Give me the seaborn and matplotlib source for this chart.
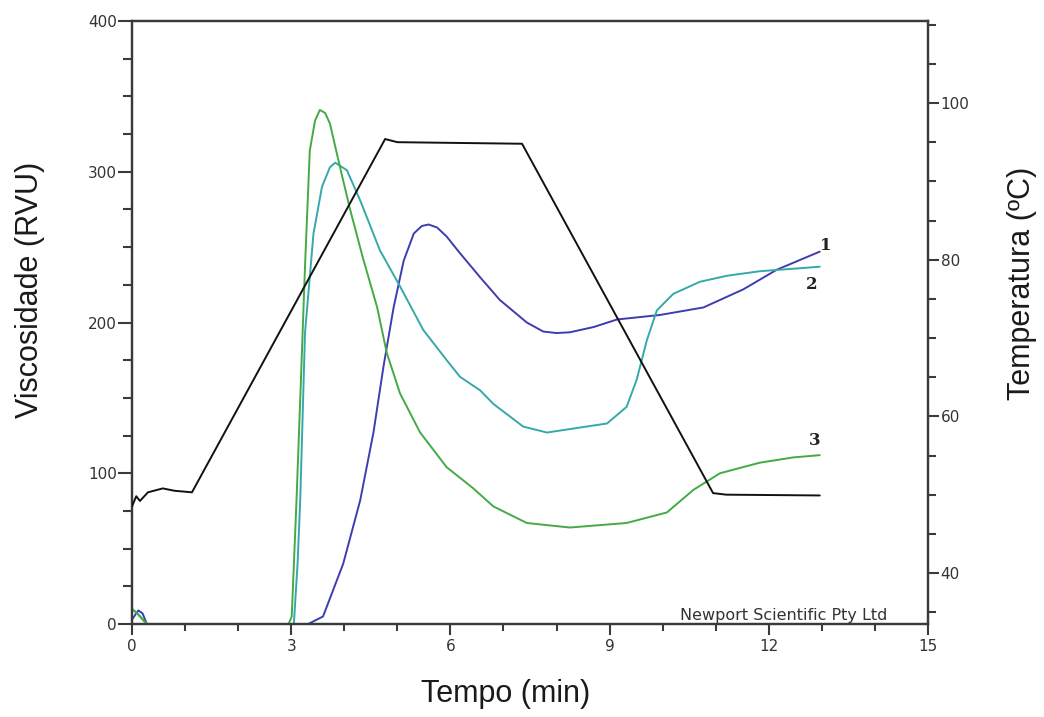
import numpy as np
import pandas as pd
import seaborn as sns
import matplotlib
matplotlib.use("Agg")
import matplotlib.pyplot as plt
from matplotlib.ticker import MultipleLocator

# ---------------- data ----------------
# curve 1 (blue)
time_1 = [0, 0.12, 0.2, 0.28, 3.32, 3.6, 3.98, 4.3, 4.55, 4.74, 4.93, 5.12, 5.31, 5.46, 5.59,
          5.75, 5.93, 6.18, 6.56, 6.93, 7.44, 7.75, 8.0, 8.25, 8.7, 9.14, 9.95, 10.77, 11.52,
          12.15, 12.96]
visc_1 = [3, 9, 7, 0, 0, 5, 40, 82, 127, 171, 210, 241, 259, 264, 265,
          263, 257, 246, 230, 215, 200, 194, 193, 193.5, 197, 202, 205, 210, 222,
          235, 247]

# curve 2 (teal)
time_2 = [0, 0.1, 0.28, 3.05, 3.12, 3.17, 3.26, 3.42, 3.58, 3.73, 3.83, 3.92, 4.05, 4.3,
          4.67, 5.05, 5.49, 5.93, 6.18, 6.56, 6.81, 7.37, 7.82, 8.38, 8.95, 9.32, 9.51,
          9.70, 9.89, 10.2, 10.7, 11.21, 11.83, 12.96]
visc_2 = [10, 7, 0, 0, 40, 82, 193, 259, 290, 303, 306, 304, 301, 281,
          248, 224, 195, 175, 164, 155, 146, 131, 127, 130, 133, 144, 162,
          188, 208, 219, 227, 231, 234, 237]

# curve 3 (green)
time_3 = [0, 0.1, 0.28, 2.95, 3.01, 3.10, 3.17, 3.26, 3.35, 3.45, 3.54, 3.64, 3.73, 3.92,
          4.11, 4.35, 4.62, 4.80, 5.05, 5.43, 5.93, 6.43, 6.81, 7.44, 8.25, 9.32, 10.08,
          10.58, 11.08, 11.83, 12.46, 12.96]
visc_3 = [10, 7, 0, 0, 5, 82, 149, 237, 314, 334, 341, 339, 332, 303,
          275, 243, 210, 180, 153, 127, 104, 90, 78, 67, 64, 67, 74,
          89, 100, 107, 110.5, 112]

# temperature profile (black, right axis)
time_t = [0, 0.08, 0.15, 0.3, 0.58, 0.8, 1.13, 4.77, 5.0, 7.35, 10.95, 11.2, 12.96]
temp_t = [48.5, 49.8, 49.2, 50.3, 50.8, 50.5, 50.3, 95.4, 95.0, 94.8, 50.2, 50.0, 49.9]

series_names = ["1", "2", "3"]
series_label_pos = [(13.08, 251), (12.80, 225), (12.86, 122)]

x_ticks = [0, 3, 6, 9, 12, 15]
y_ticks = [0, 100, 200, 300, 400]
t_ticks = [40, 60, 80, 100]

# ---------------- styling ----------------
sns.set_style("white")
plt.rcParams['font.family'] = ['DejaVu Sans']

W, H = 1044, 717
fig = plt.figure(figsize=(W / 100, H / 100), dpi=100)
L, R, T, B = 132, 928, 21, 624
ax = fig.add_axes([L / W, 1 - B / H, (R - L) / W, (B - T) / H])
ax2 = ax.twinx()

c_blue = "#3d3db0"
c_teal = "#35a9a9"
c_green = "#45aa45"
c_black = "#111111"
lw = 1.4

for tt, vv, cc in [(time_1, visc_1, c_blue), (time_2, visc_2, c_teal), (time_3, visc_3, c_green)]:
    df = pd.DataFrame({"t": tt, "v": vv})
    sns.lineplot(data=df, x="t", y="v", ax=ax, color=cc, linewidth=lw,
                 estimator=None, sort=False, clip_on=False, zorder=3)

dft = pd.DataFrame({"t": time_t, "T": temp_t})
sns.lineplot(data=dft, x="t", y="T", ax=ax2, color=c_black, linewidth=lw,
             estimator=None, sort=False, zorder=3)

ax.set_xlim(0, 15)
ax.set_ylim(0, 400)
ax2.set_ylim(33.49, 110.47)

ax.set_xticks(x_ticks)
ax.set_yticks(y_ticks)
ax2.set_yticks(t_ticks)
ax.xaxis.set_minor_locator(MultipleLocator(1))
ax.yaxis.set_minor_locator(MultipleLocator(25))
ax2.yaxis.set_minor_locator(MultipleLocator(5))

ax.set_xlabel("")
ax.set_ylabel("")
ax2.set_ylabel("")

spine_c = "#3a3a3a"
for a in (ax, ax2):
    for s in a.spines.values():
        s.set_color(spine_c)
        s.set_linewidth(1.6)
        s.set_visible(True)

tick_kw = dict(color=spine_c, labelcolor="#333333", labelsize=11, direction="out")
ax.tick_params(axis="y", which="major", length=10, width=1.5, pad=1, left=True, **tick_kw)
ax.tick_params(axis="y", which="minor", length=6.5, width=1.5, left=True, color=spine_c, direction="out")
ax.tick_params(axis="x", which="major", length=8, width=1.5, pad=3, bottom=True, **tick_kw)
ax.tick_params(axis="x", which="minor", length=5, width=1.5, bottom=True, color=spine_c, direction="out")
ax2.tick_params(axis="y", which="major", length=8, width=1.5, pad=1, right=True, **tick_kw)
ax2.tick_params(axis="y", which="minor", length=6, width=1.5, right=True, color=spine_c, direction="out")

# series labels
for name, (px, py) in zip(series_names, series_label_pos):
    ax.text(px, py, name, fontsize=12, fontweight="bold", family="DejaVu Serif",
            color="#222222", ha="center", va="center", zorder=5)

# watermark
ax.text(10.33, 0.5, "Newport Scientific Pty Ltd", fontsize=11.5, color="#333333",
        ha="left", va="bottom", zorder=5)

# axis titles
lab_kw = dict(fontsize=22, family="Liberation Sans", color="#1a1a1a", ha="center", va="center")
fig.text(30 / W, 1 - 290 / H, "Viscosidade (RVU)", rotation=90, **lab_kw)
fig.text(1022 / W, 1 - 283 / H, "Temperatura (ºC)", rotation=90, **lab_kw)
fig.text(506 / W, 1 - 694 / H, "Tempo (min)", **lab_kw)

fig.savefig("out.png", dpi=100)
